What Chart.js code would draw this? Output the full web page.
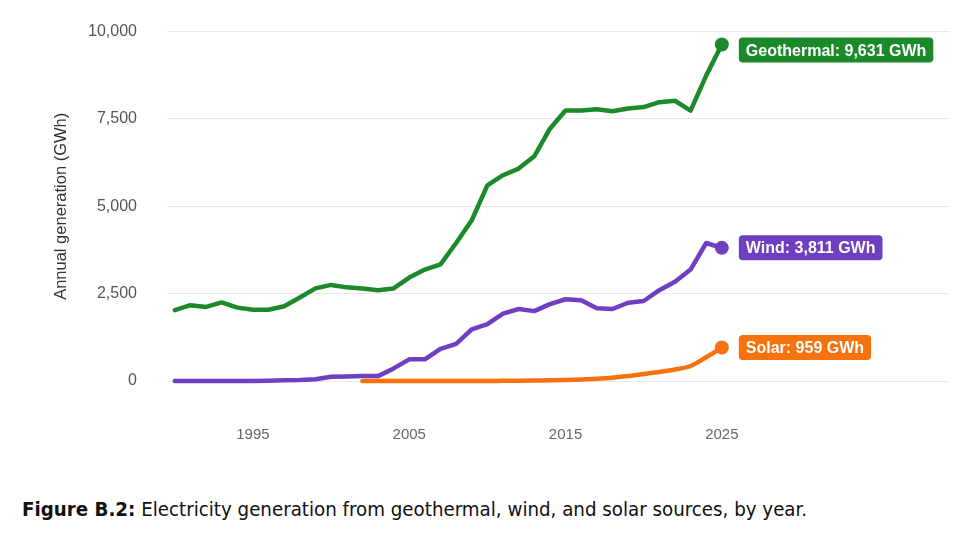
<!DOCTYPE html>
<html>
<head>
<meta charset="utf-8">
<script src="https://cdn.jsdelivr.net/npm/chart.js@4/dist/chart.umd.min.js"></script>
<style>
  html, body { margin: 0; padding: 0; background: #fff; overflow: hidden; }
  #wrap { position: absolute; left: 0; top: -8px; width: 978px; height: 478px; }
  #caption {
    position: absolute; left: 22px; top: 497px;
    font-family: "Liberation Sans Narrow", "DejaVu Sans Condensed", "Roboto", sans-serif;
    font-size: 20.3px; color: #111; white-space: nowrap;
  }
  #caption b { font-weight: 700; }
</style>
</head>
<body>
<div id="wrap"><canvas id="chart"></canvas></div>
<div id="caption"><b>Figure B.2:</b> Electricity generation from geothermal, wind, and solar sources, by year.</div>
<script>
// data
const years = [1990, 1991, 1992, 1993, 1994, 1995, 1996, 1997, 1998, 1999,
  2000, 2001, 2002, 2003, 2004, 2005, 2006, 2007, 2008, 2009,
  2010, 2011, 2012, 2013, 2014, 2015, 2016, 2017, 2018, 2019,
  2020, 2021, 2022, 2023, 2024, 2025];
const geothermal = [2030, 2170, 2120, 2250, 2100, 2040, 2040, 2140, 2390, 2650,
  2750, 2680, 2650, 2600, 2650, 2960, 3190, 3340, 3950, 4600,
  5600, 5890, 6080, 6430, 7220, 7740, 7740, 7780, 7720, 7800,
  7840, 7980, 8020, 7740, 8740, 9631];
const wind = [0, 0, 0, 0, 0, 0, 10, 20, 30, 50,
  120, 130, 140, 140, 360, 620, 620, 920, 1060, 1480,
  1630, 1930, 2060, 2000, 2200, 2340, 2310, 2080, 2060, 2240,
  2290, 2600, 2840, 3190, 3950, 3811];
const solar = [null, null, null, null, null, null, null, null, null, null,
  null, null, 0, 0, 0, 0, 0, 0, 0, 0,
  0, 5, 10, 15, 20, 30, 45, 65, 95, 140,
  200, 260, 330, 430, 680, 959];
const seriesNames = ['Geothermal', 'Wind', 'Solar'];
const xTicks = [1995, 2005, 2015, 2025];
const yTicks = [0, 2500, 5000, 7500, 10000];

const colors = ['#1c8a2b', '#6e3fc0', '#f5720f'];

function toPoints(vals) {
  return years.map((y, i) => ({ x: y, y: vals[i] }));
}

function lastRadius(ctx) {
  return ctx.dataIndex === years.length - 1 ? 7 : 0;
}

// end-of-line value tags
const endLabels = {
  id: 'endLabels',
  afterDatasetsDraw(chart) {
    const ctx = chart.ctx;
    const area = chart.chartArea;
    ctx.save();
    ctx.font = 'bold 16px "Liberation Sans", Arial, sans-serif';
    ctx.textBaseline = 'middle';
    chart.data.datasets.forEach((ds, i) => {
      const meta = chart.getDatasetMeta(i);
      const pt = meta.data[meta.data.length - 1];
      const val = ds.data[ds.data.length - 1].y;
      const text = seriesNames[i] + ': ' + val.toLocaleString('en-US') + ' GWh';
      const w = ctx.measureText(text).width + 14;
      const h = 25;
      const x = pt.x + 17;
      let y = pt.y - h / 2;
      if (y < area.top + 6) y = area.top + 6;
      ctx.fillStyle = colors[i];
      ctx.beginPath();
      ctx.roundRect(x, y, w, h, 4);
      ctx.fill();
      ctx.fillStyle = '#fff';
      ctx.fillText(text, x + 7, y + h / 2 + 1);
    });
    ctx.restore();
  }
};

new Chart(document.getElementById('chart'), {
  type: 'line',
  data: {
    datasets: [
      { label: seriesNames[0], data: toPoints(geothermal), borderColor: colors[0], backgroundColor: colors[0] },
      { label: seriesNames[1], data: toPoints(wind), borderColor: colors[1], backgroundColor: colors[1] },
      { label: seriesNames[2], data: toPoints(solar), borderColor: colors[2], backgroundColor: colors[2], cubicInterpolationMode: 'monotone' }
    ]
  },
  options: {
    responsive: true, maintainAspectRatio: false,
    animation: false,
    clip: false,
    layout: { padding: { top: 23, right: 28, bottom: 0, left: 0 } },
    elements: {
      line: { borderWidth: 4.5, borderJoinStyle: 'round', borderCapStyle: 'round' },
      point: { radius: lastRadius, hoverRadius: lastRadius, borderWidth: 0 }
    },
    plugins: { legend: { display: false }, tooltip: { enabled: false } },
    scales: {
      x: {
        type: 'linear', min: 1989.5, max: 2039.6,
        afterBuildTicks: s => { s.ticks = xTicks.map(v => ({ value: v })); },
        afterFit: s => { s.height = 89; },
        grid: { display: false, drawTicks: false },
        border: { display: false },
        ticks: {
          padding: 45, color: '#666',
          font: { family: '"Liberation Sans Narrow", "Liberation Sans", sans-serif', size: 15 },
          callback: v => String(v)
        }
      },
      y: {
        min: 0, max: 10000,
        afterBuildTicks: s => { s.ticks = yTicks.map(v => ({ value: v })); },
        afterFit: s => { s.width = 167; },
        grid: { color: '#e8e8e8', lineWidth: 1, drawTicks: false },
        border: { display: false },
        ticks: {
          padding: 30, color: '#555',
          font: { family: '"Liberation Sans", Arial, sans-serif', size: 16 },
          callback: v => v.toLocaleString('en-US')
        },
        title: {
          display: true, text: 'Annual generation (GWh)', color: '#333',
          font: { family: '"Liberation Sans", Arial, sans-serif', size: 16.5 },
          padding: { top: 52, bottom: 0 }
        }
      }
    }
  },
  plugins: [endLabels]
});
</script>
</body>
</html>
